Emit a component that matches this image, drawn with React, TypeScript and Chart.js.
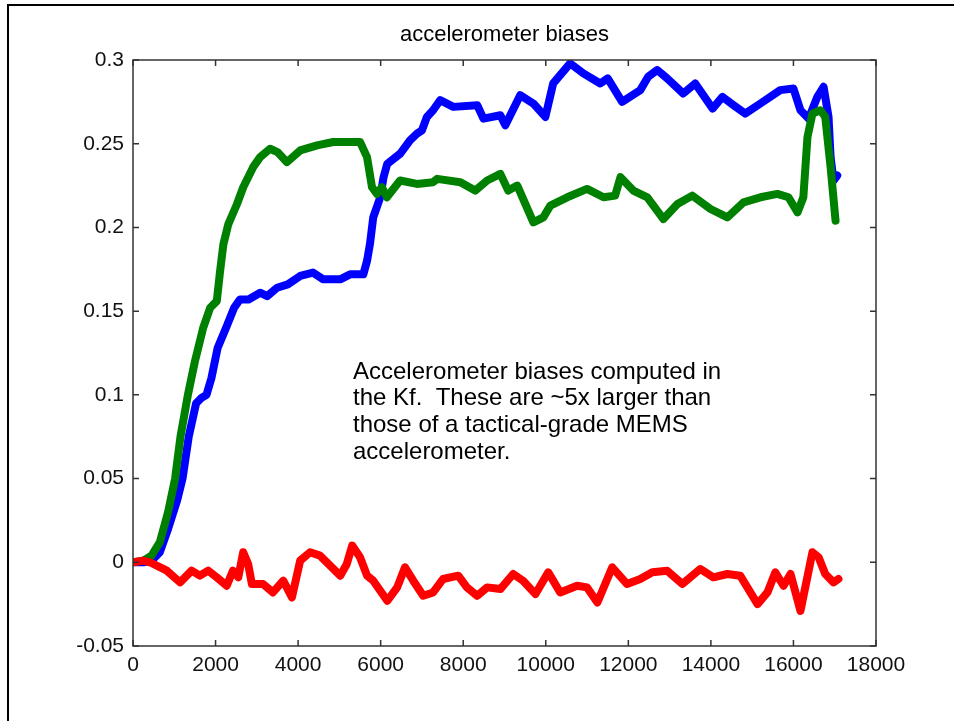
import React, { useEffect, useRef } from "react";
import { Chart, registerables } from "chart.js";

Chart.register(...registerables);

const titleText = "accelerometer biases";
const noteLines = [
  "Accelerometer biases computed in",
  "the Kf.  These are ~5x larger than",
  "those of a tactical-grade MEMS",
  "accelerometer.",
];

const xTicks = [0, 2000, 4000, 6000, 8000, 10000, 12000, 14000, 16000, 18000];
const yTicks = [-0.05, 0, 0.05, 0.1, 0.15, 0.2, 0.25, 0.3];

const blueX = [0, 250, 450, 650, 850, 1070, 1200, 1350, 1530, 1650, 1780, 1900, 2050, 2270, 2450, 2590, 2800, 3080, 3250, 3490, 3750, 4050, 4360, 4610, 5020, 5260, 5580, 5670, 5740, 5820, 5990, 6070, 6160, 6470, 6710, 6880, 7000, 7120, 7270, 7440, 7760, 8340, 8490, 8900, 9020, 9380, 9700, 9990, 10180, 10590, 10910, 11320, 11500, 11850, 12290, 12480, 12700, 12940, 13330, 13620, 14040, 14280, 14550, 14830, 15200, 15680, 16000, 16170, 16370, 16580, 16730, 16850, 16900, 16970, 17060];
const blueY = [0, 0, 0.001, 0.006, 0.02, 0.037, 0.05, 0.075, 0.095, 0.098, 0.1, 0.11, 0.128, 0.141, 0.152, 0.157, 0.157, 0.161, 0.159, 0.164, 0.166, 0.171, 0.173, 0.169, 0.169, 0.172, 0.172, 0.18, 0.19, 0.206, 0.218, 0.23, 0.238, 0.244, 0.252, 0.256, 0.258, 0.266, 0.27, 0.276, 0.272, 0.273, 0.265, 0.267, 0.261, 0.279, 0.274, 0.266, 0.286, 0.298, 0.292, 0.286, 0.289, 0.275, 0.282, 0.29, 0.294, 0.289, 0.28, 0.286, 0.271, 0.278, 0.273, 0.268, 0.274, 0.282, 0.283, 0.27, 0.265, 0.278, 0.284, 0.266, 0.242, 0.228, 0.231];

const greenX = [0, 250, 450, 650, 850, 1020, 1150, 1330, 1500, 1700, 1870, 2030, 2110, 2190, 2310, 2520, 2670, 2910, 3080, 3320, 3500, 3730, 4050, 4460, 4850, 5500, 5670, 5790, 5910, 6030, 6150, 6470, 6880, 7270, 7370, 7930, 8290, 8580, 8900, 9090, 9310, 9700, 9940, 10110, 10520, 11000, 11400, 11680, 11810, 12120, 12460, 12850, 13190, 13550, 13990, 14400, 14790, 15200, 15610, 15880, 16100, 16240, 16340, 16460, 16650, 16770, 16900, 17020];
const greenY = [0, 0.001, 0.004, 0.012, 0.03, 0.05, 0.075, 0.1, 0.12, 0.14, 0.152, 0.156, 0.174, 0.19, 0.202, 0.214, 0.224, 0.236, 0.242, 0.247, 0.245, 0.239, 0.246, 0.249, 0.251, 0.251, 0.242, 0.224, 0.22, 0.224, 0.218, 0.228, 0.226, 0.227, 0.229, 0.227, 0.222, 0.228, 0.232, 0.222, 0.225, 0.203, 0.206, 0.213, 0.218, 0.223, 0.218, 0.219, 0.23, 0.222, 0.218, 0.205, 0.214, 0.219, 0.211, 0.206, 0.215, 0.218, 0.22, 0.218, 0.209, 0.218, 0.254, 0.268, 0.27, 0.266, 0.236, 0.204];

const redX = [0, 240, 410, 820, 1140, 1420, 1620, 1820, 2030, 2270, 2420, 2550, 2670, 2790, 2880, 3150, 3390, 3640, 3850, 4050, 4290, 4530, 5020, 5180, 5310, 5500, 5670, 5820, 6160, 6400, 6590, 6790, 7030, 7270, 7510, 7880, 8090, 8340, 8580, 8900, 9210, 9450, 9750, 10060, 10350, 10760, 11000, 11250, 11610, 11970, 12290, 12580, 12940, 13310, 13740, 14060, 14400, 14710, 15130, 15370, 15560, 15760, 15930, 16170, 16460, 16610, 16770, 16970, 17090];
const redY = [0, 0.001, 0, -0.005, -0.012, -0.005, -0.008, -0.005, -0.009, -0.014, -0.005, -0.009, 0.006, -0.001, -0.013, -0.013, -0.018, -0.011, -0.021, 0.001, 0.006, 0.004, -0.008, -0.001, 0.01, 0.003, -0.008, -0.011, -0.023, -0.015, -0.003, -0.011, -0.02, -0.018, -0.01, -0.008, -0.015, -0.02, -0.015, -0.016, -0.007, -0.011, -0.019, -0.006, -0.018, -0.014, -0.015, -0.024, -0.003, -0.013, -0.01, -0.006, -0.005, -0.013, -0.004, -0.009, -0.007, -0.008, -0.025, -0.018, -0.006, -0.014, -0.007, -0.029, 0.006, 0.003, -0.007, -0.012, -0.01];

const FONT = '"Liberation Sans", Arial, Helvetica, sans-serif';

function pts(xs: number[], ys: number[]) {
  return xs.map((x, i) => ({ x, y: ys[i] }));
}

const matlabPlugin = {
  id: "matlabFrame",
  beforeDraw(chart: any) {
    const ctx = chart.ctx;
    ctx.save();
    ctx.fillStyle = "#ffffff";
    ctx.fillRect(0, 0, chart.width, chart.height);
    ctx.restore();
  },
  afterDraw(chart: any) {
    const ctx = chart.ctx;
    const a = chart.chartArea;
    const xs = chart.scales.x;
    const ys = chart.scales.y;
    ctx.save();
    // outer frame (top and left)
    ctx.strokeStyle = "#000";
    ctx.lineWidth = 2;
    ctx.beginPath();
    ctx.moveTo(8, chart.height);
    ctx.lineTo(8, 5);
    ctx.lineTo(chart.width, 5);
    ctx.stroke();
    // axes box
    ctx.strokeStyle = "#333";
    ctx.lineWidth = 1.5;
    ctx.strokeRect(a.left, a.top, a.right - a.left, a.bottom - a.top);
    // inward ticks
    ctx.beginPath();
    const tl = 6;
    xTicks.forEach((v) => {
      const px = xs.getPixelForValue(v);
      ctx.moveTo(px, a.bottom);
      ctx.lineTo(px, a.bottom - tl);
      ctx.moveTo(px, a.top);
      ctx.lineTo(px, a.top + tl);
    });
    yTicks.forEach((v) => {
      const py = ys.getPixelForValue(v);
      ctx.moveTo(a.left, py);
      ctx.lineTo(a.left + tl, py);
      ctx.moveTo(a.right, py);
      ctx.lineTo(a.right - tl, py);
    });
    ctx.stroke();
    // title
    ctx.fillStyle = "#000";
    ctx.font = `22px ${FONT}`;
    ctx.textAlign = "center";
    ctx.textBaseline = "middle";
    ctx.fillText(titleText, (a.left + a.right) / 2, 35);
    // annotation
    ctx.font = `24px ${FONT}`;
    ctx.textAlign = "left";
    noteLines.forEach((line, i) => {
      ctx.fillText(line, 353, 372 + i * 26.7);
    });
    ctx.restore();
  },
};

export default function App() {
  const ref = useRef<HTMLCanvasElement | null>(null);
  useEffect(() => {
    if (!ref.current) return;
    const lineCommon = {
      borderWidth: 8,
      pointRadius: 0,
      fill: false,
      tension: 0,
      borderJoinStyle: "round" as const,
      borderCapStyle: "round" as const,
    };
    const chart = new Chart(ref.current, {
      type: "line",
      data: {
        datasets: [
          { label: "x", data: pts(blueX, blueY), borderColor: "#0000ff", backgroundColor: "#0000ff", order: 3, ...lineCommon },
          { label: "y", data: pts(greenX, greenY), borderColor: "#008000", backgroundColor: "#008000", order: 2, ...lineCommon },
          { label: "z", data: pts(redX, redY), borderColor: "#ff0000", backgroundColor: "#ff0000", order: 1, ...lineCommon },
        ],
      },
      options: {
        responsive: false,
        animation: false,
        devicePixelRatio: 1,
        layout: { padding: { top: 60, right: 78, left: 0, bottom: 0 } },
        plugins: {
          legend: { display: false },
          title: { display: false },
          tooltip: { enabled: false },
        },
        scales: {
          x: {
            type: "linear",
            min: 0,
            max: 18000,
            afterFit: (s: any) => {
              s.height = 75;
            },
            afterBuildTicks: (s: any) => {
              s.ticks = xTicks.map((v) => ({ value: v }));
            },
            grid: { display: false, drawTicks: false },
            border: { display: false },
            ticks: {
              padding: 7,
              color: "#111",
              font: { family: FONT, size: 21 },
              maxRotation: 0,
              autoSkip: false,
              callback: (v: any) => String(v),
            },
          },
          y: {
            type: "linear",
            min: -0.05,
            max: 0.3,
            afterFit: (s: any) => {
              s.width = 133;
            },
            afterBuildTicks: (s: any) => {
              s.ticks = yTicks.map((v) => ({ value: v }));
            },
            grid: { display: false, drawTicks: false },
            border: { display: false },
            ticks: {
              padding: 9,
              color: "#111",
              font: { family: FONT, size: 21 },
              autoSkip: false,
              callback: (v: any) => String(Math.round(Number(v) * 100) / 100),
            },
          },
        },
      },
      plugins: [matlabPlugin],
    });
    return () => chart.destroy();
  }, []);
  return (
    <div style={{ position: "absolute", left: 0, top: 0, width: 954, height: 721, background: "#fff" }}>
      <canvas ref={ref} width={954} height={721} style={{ display: "block" }} />
    </div>
  );
}
